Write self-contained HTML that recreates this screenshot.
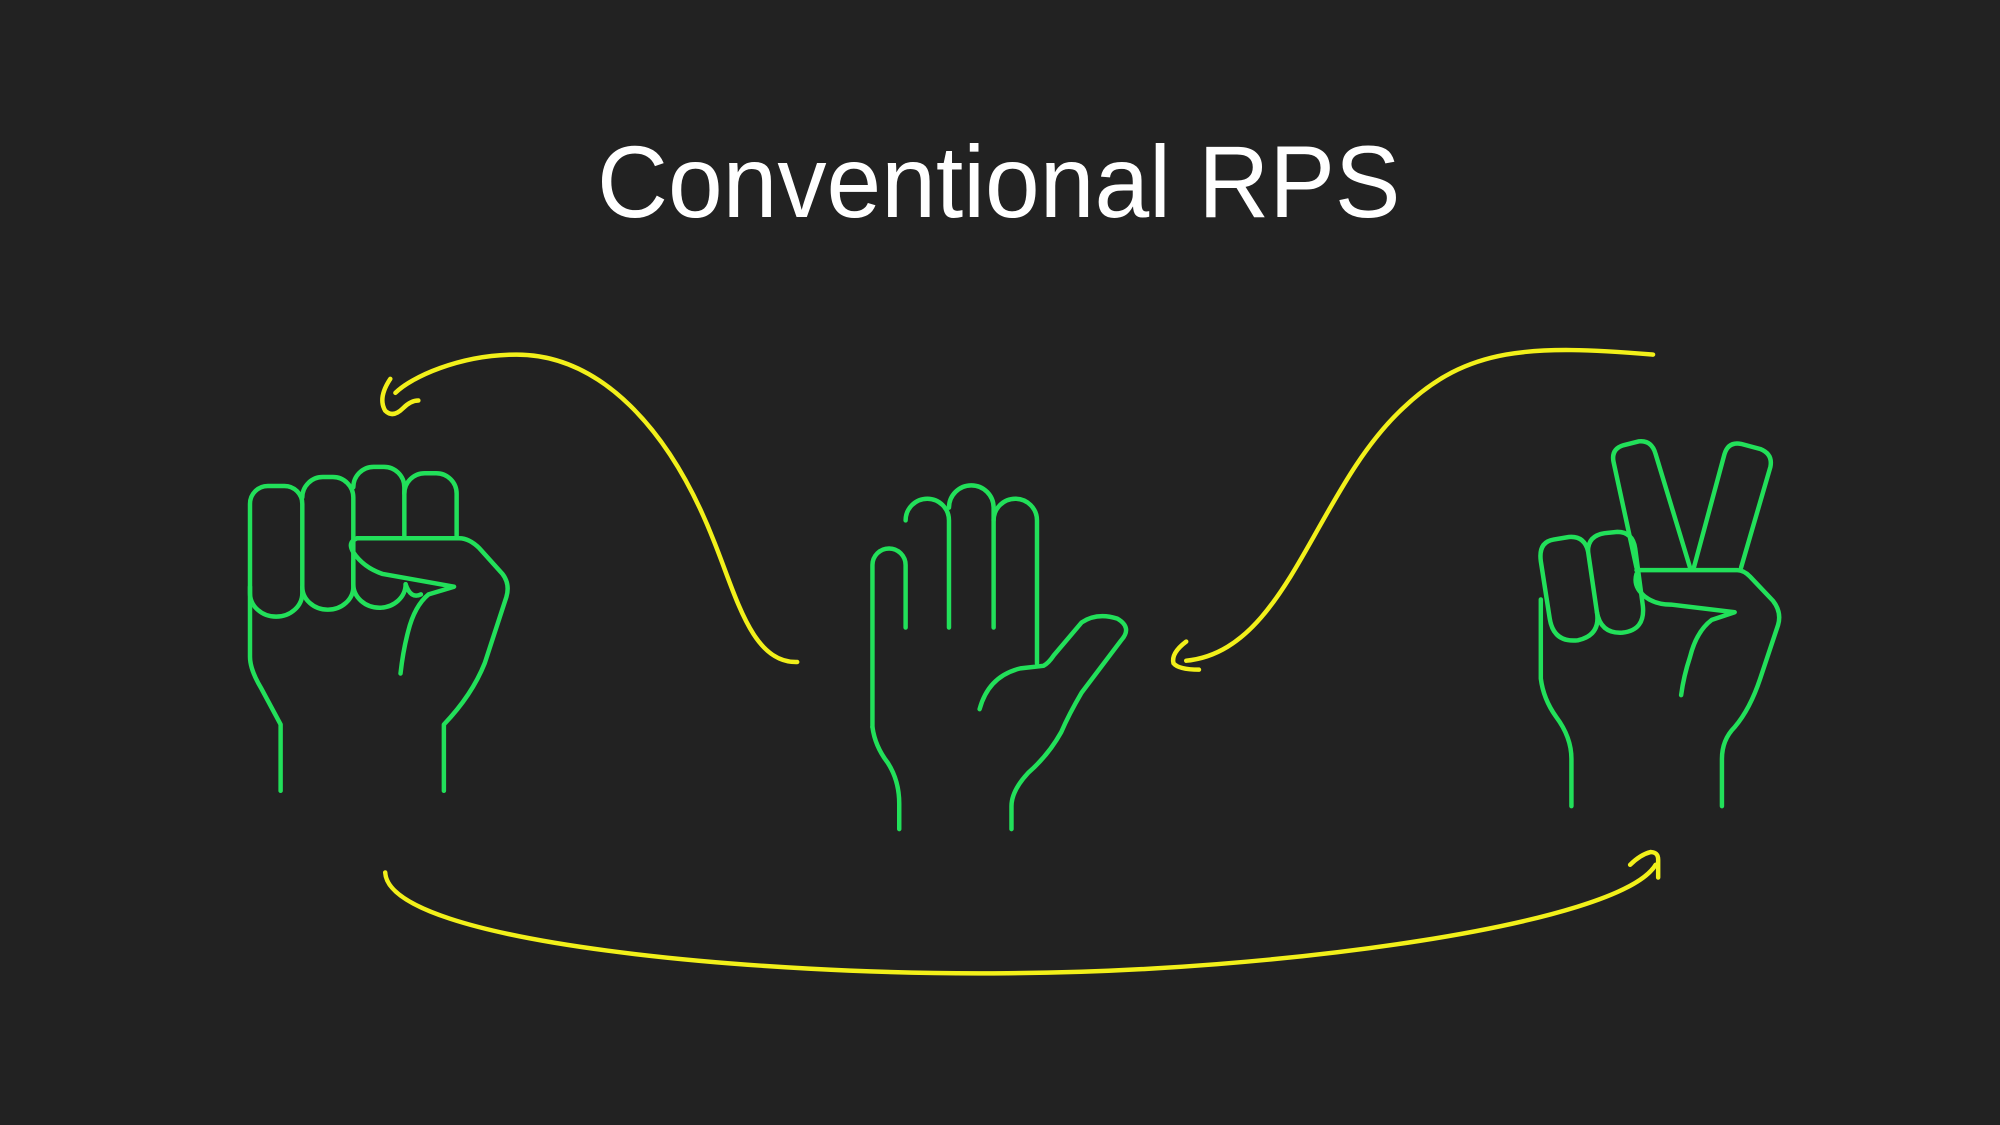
<!DOCTYPE html>
<html><head><meta charset="utf-8"><style>
html,body{margin:0;padding:0;background:#222222;}
svg{display:block;}
</style></head><body>
<svg width="2000" height="1125" viewBox="0 0 1568 882" xmlns="http://www.w3.org/2000/svg">
<rect width="1568" height="882" fill="#222222"/>
<text x="783" y="170" text-anchor="middle" font-family="Liberation Sans, sans-serif" font-size="80" fill="#ffffff" textLength="630" lengthAdjust="spacingAndGlyphs">Conventional RPS</text>

<g fill="none" stroke="#22e05a" stroke-width="3.5" stroke-linecap="round" stroke-linejoin="round">
<!-- Fist -->
<path d="M196,465 L196,395 A14,14 0 0 1 210,381 L223,381 A14,14 0 0 1 237,395 L237,465 A20,18 0 0 1 196,465"/>
<path d="M237,390 A16,16 0 0 1 253,374 L261,374 A16,16 0 0 1 277,390 L277,460 A20,18 0 0 1 237,460"/>
<path d="M277,382 A16,16 0 0 1 293,366 L301,366 A16,16 0 0 1 317,382 L317,420"/>
<path d="M277,440 L277,458 A20,18 0 0 0 318,458"/>
<path d="M317,387 A16,16 0 0 1 333,371 L342,371 A16,16 0 0 1 358,387 L358,422"/>
<path d="M196,460 L196,515 Q196,525 205,540 L220,568 L220,620"/>
<path d="M280,422 L360,422 Q368,422 376,430 L394,450 Q400,458 397,468 L380,520 Q370,545 348,568 L348,620"/>
<path d="M280,422 Q272,425 277,433 Q285,445 300,450 L356,460 L336,466 Q325,475 320,495 Q316,510 314,528"/>
<path d="M318,458 Q322,470 330,466"/>
<!-- Paper -->
<path d="M684,570 L684,443 A13,13 0 0 1 710,443 L710,492"/>
<path d="M710,408 A17,17 0 0 1 744,408 L744,492"/>
<path d="M744,398 A17.5,17.5 0 0 1 779,398 L779,492"/>
<path d="M779,408 A17,17 0 0 1 813,408 L813,520"/>
<path d="M684,570 Q686,585 696,598 Q705,612 705,630 L705,650"/>
<path d="M768,556 Q775,530 800,524 L818,522 Q822,520 826,514 L848,488 Q860,480 876,485 Q888,492 879,502 L848,543 Q838,560 832,574 Q822,592 806,606 Q793,620 793,632 L793,650"/>
<!-- Scissors -->
<path d="M1283,445 L1265,362 Q1263,352 1273,349 L1285,346 Q1295,345 1298,356 L1325,445"/>
<path d="M1328,445 L1352,356 Q1355,346 1365,348 L1380,352 Q1390,356 1388,366 L1365,445"/>
<path d="M1208,440 Q1206,425 1218,423 L1230,421 Q1242,420 1245,432 L1252,480 Q1255,498 1237,502 Q1218,504 1215,485 Z"/>
<path d="M1245,432 Q1245,420 1258,418 L1268,417 Q1280,417 1282,430 L1288,475 Q1290,494 1272,496 Q1255,497 1252,480"/>
<path d="M1208,470 L1208,532 Q1210,548 1220,562 Q1232,578 1232,595 L1232,632"/>
<path d="M1283,447 L1362,447 Q1367,447 1372,452 L1390,471 Q1397,480 1394,490 L1380,532 Q1372,556 1360,570 Q1350,580 1350,595 L1350,632"/>
<path d="M1283,450 Q1280,460 1290,468 Q1298,474 1310,474 L1360,480 L1342,486 Q1330,495 1325,515 Q1320,530 1318,545"/>
</g>

<g fill="none" stroke="#f2f01a" stroke-width="3.5" stroke-linecap="round" stroke-linejoin="round">
<path d="M625,519 C590,520 578,470 560,425 C525,335 470,278 405,278 C360,278 322,296 310,308"/>
<path d="M306,297 Q296,312 302,322 Q308,328 316,320 Q322,314 328,314"/>
<path d="M1296,278 C1200,270 1150,272 1100,320 C1030,385 1010,510 930,518"/>
<path d="M930,503 Q918,512 920,520 Q924,525 940,525"/>
<path d="M302,684 C305,740 600,765 790,763 C1000,762 1270,725 1298,678"/>
<path d="M1278,678 Q1286,670 1294,668 Q1300,668 1300,674 L1300,688"/>
</g>
</svg>
</body></html>
